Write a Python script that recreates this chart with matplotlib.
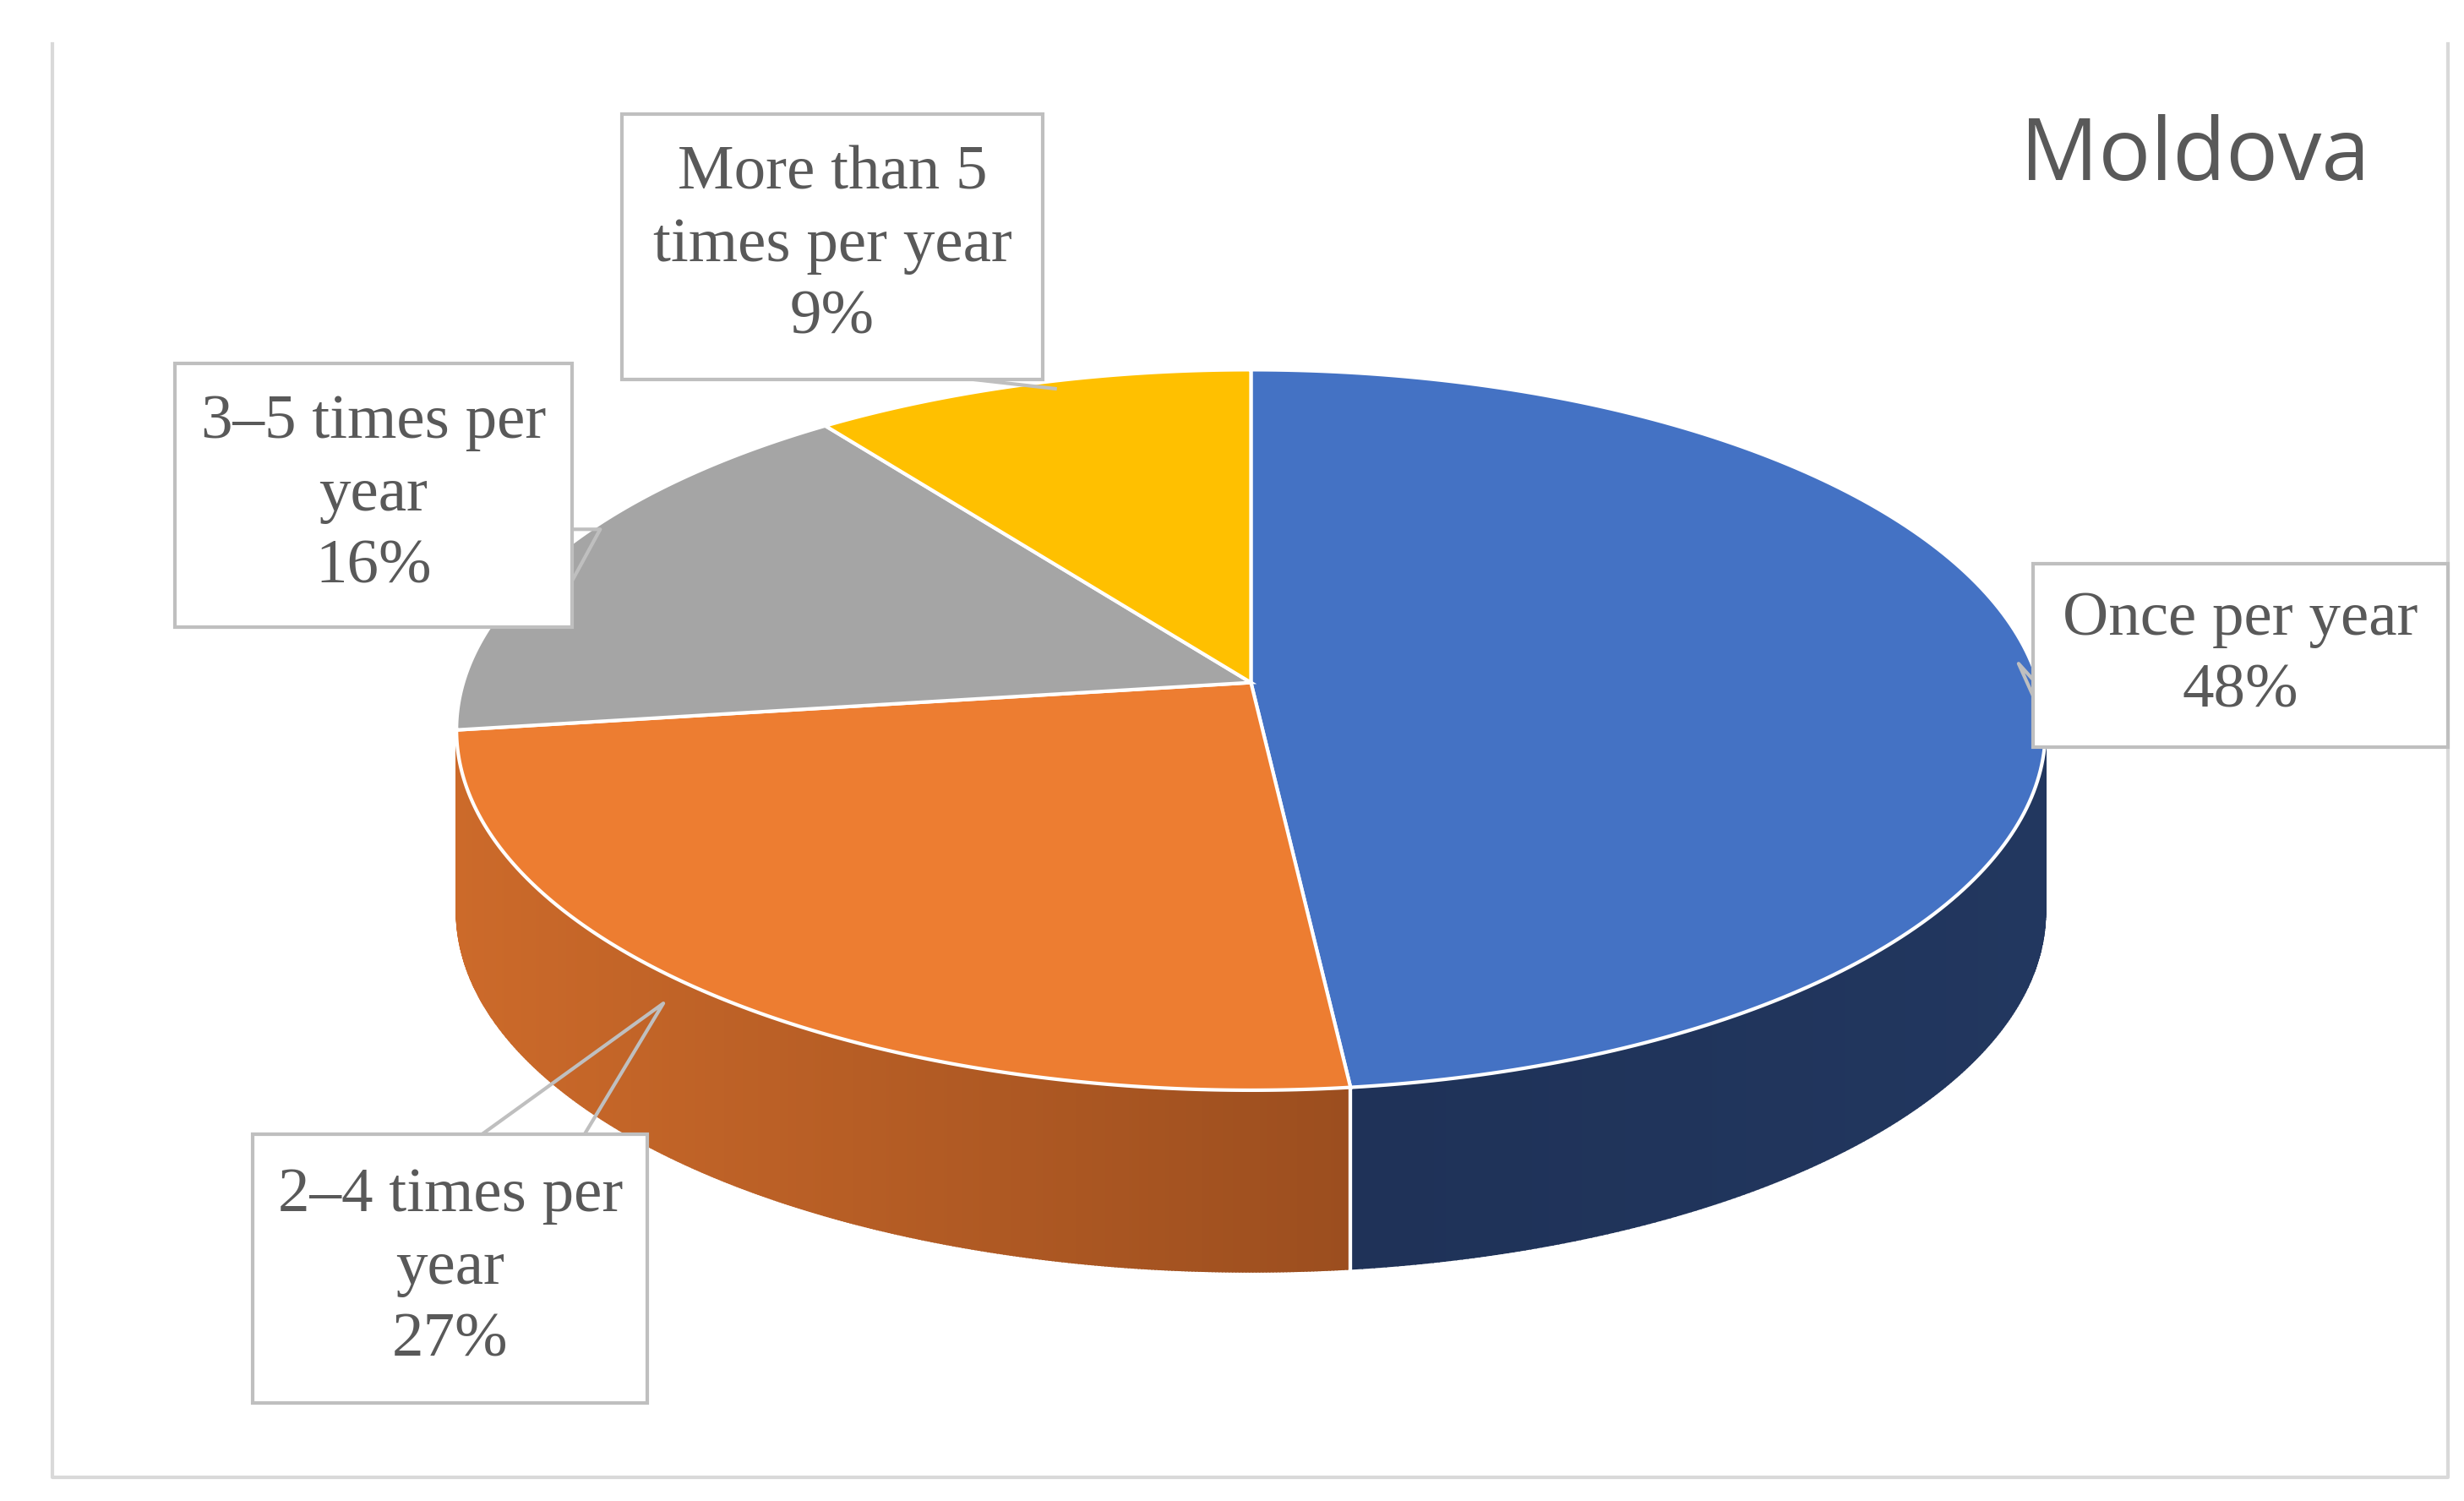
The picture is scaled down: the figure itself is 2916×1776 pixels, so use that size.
import numpy as np
import matplotlib.pyplot as plt
from matplotlib.patches import Polygon, Rectangle
from matplotlib.colors import to_rgb

labels = ['Once per year', '2–4 times per\nyear', '3–5 times per\nyear', 'More than 5\ntimes per year']
shares = [48, 27, 16, 9]
top_colors = ['#4472c4', '#ed7d31', '#a5a5a5', '#ffc000']
side_light = ['#22375f', '#cc6a2a', '#7f7f7f', '#c49000']
side_dark = ['#1a2b4e', '#763816', '#5f5f5f', '#8f6a00']

cx, cy, rx, ry, depth = 792, 462, 503, 228, 115

fig = plt.figure(figsize=(14.58, 8.88), dpi=200)
ax = fig.add_axes([0, 0, 1, 1])
ax.set_xlim(0, 1560)
ax.set_ylim(950, 0)
ax.axis('off')

# frame (top edge cut off)
ax.plot([33, 33, 1550, 1550], [28, 935, 935, 28], color='#d9d9d9', lw=1.5)


def pt(theta):
    return cx + rx * np.cos(theta), cy - ry * np.sin(theta)


# slice angles, clockwise from 12 o'clock
bounds = [np.pi / 2]
for s in shares:
    bounds.append(bounds[-1] - 2 * np.pi * s / 100)

# side walls (front half: sin < 0)
for i in range(len(shares)):
    a0, a1 = bounds[i], bounds[i + 1]
    th = np.linspace(a0, a1, 400)
    c0, c1 = np.array(to_rgb(side_light[i])), np.array(to_rgb(side_dark[i]))
    for k in range(len(th) - 1):
        t = (th[k] + th[k + 1]) / 2
        if np.sin(t) >= 0:
            continue
        x0, y0 = pt(th[k])
        x1, y1 = pt(th[k + 1])
        f = (x0 - (cx - rx)) / (2 * rx)
        if i == 0:
            f = 1 - f
        col = c0 + (c1 - c0) * f
        ax.add_patch(Polygon([(x0, y0), (x1, y1), (x1, y1 + depth), (x0, y0 + depth)],
                             closed=True, fc=col, ec=col, lw=0.6))
    # white dividing edge on the wall
    for a in (a0, a1):
        if np.sin(a) < -0.01:
            x, y = pt(a)
            ax.plot([x, x], [y, y + depth], color='white', lw=1.5)

# top faces
for i in range(len(shares)):
    th = np.linspace(bounds[i], bounds[i + 1], 200)
    xs, ys = pt(th)
    verts = [(cx, cy - 30)] + list(zip(xs, ys))
    ax.add_patch(Polygon(verts, closed=True, fc=top_colors[i], ec='white', lw=1.5))

# label boxes
font = dict(family='Liberation Serif', fontsize=27, color='#595959', ha='center', va='center',
            linespacing=1.35)
boxes = [(1287, 357, 263, 116), (160, 718, 250, 170), (111, 230, 251, 167), (394, 72, 266, 168)]
for (bx, by, bw, bh), lab, s in zip(boxes, labels, shares):
    ax.add_patch(Rectangle((bx, by), bw, bh, fc='white', ec='#bfbfbf', lw=1.5, zorder=5))
    ax.text(bx + bw / 2, by + bh / 2, f'{lab}\n{s}%', zorder=6, **font)

# leader lines
lc = dict(color='#bfbfbf', lw=1.5, zorder=4)
ax.plot([1287, 1278, 1287], [440, 420, 430], **lc)
ax.plot([305, 420, 370], [718, 635, 718], **lc)
ax.plot([362, 380, 362], [368, 335, 335], **lc)
ax.plot([615, 668], [240, 246], **lc)

ax.text(1390, 100, 'Moldova', fontsize=37, color='#595959', ha='center', va='center',
        family='Open Sans')

fig.savefig('out.png', dpi=200)
